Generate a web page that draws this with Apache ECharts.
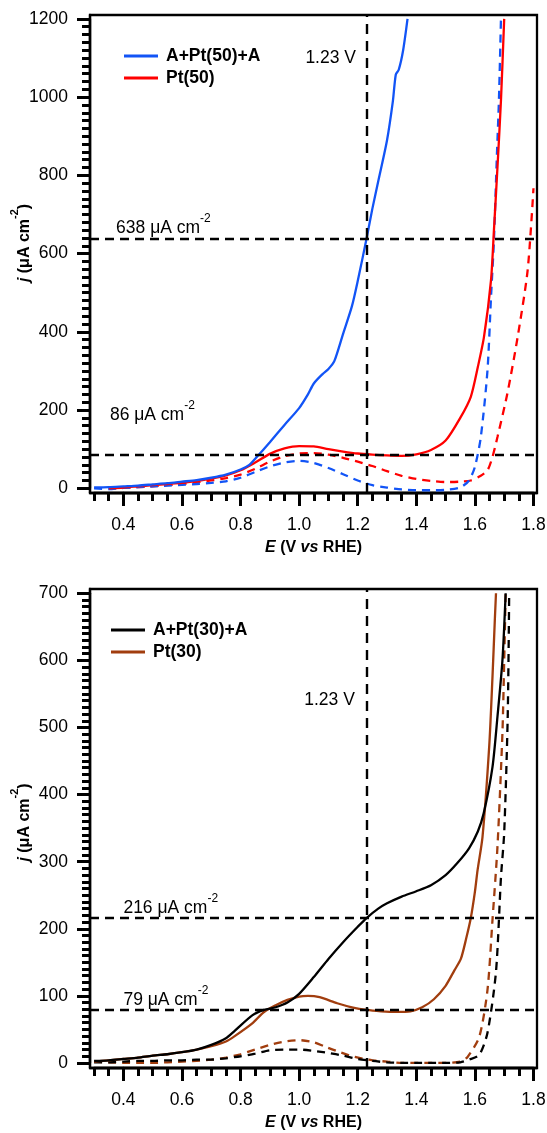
<!DOCTYPE html>
<html><head><meta charset="utf-8">
<script src="https://cdn.jsdelivr.net/npm/echarts@6/dist/echarts.min.js"></script>
<style>html,body{margin:0;padding:0;background:#fff}#c{width:547px;height:1133px;background:#fff}</style>
</head><body><div id="c"></div>
<script>
// ---------- data (E in V vs RHE, j in µA cm^-2) ----------
const xTickFirst = 0.3, xLabelFirst = 0.4, xLabelLast = 1.8, xLabelStep = 0.2, xMinorStep = 0.05;
const topYTicks = { first: 0, last: 1200, step: 200, minorSplit: 10 };
const botYTicks = { first: 0, last: 700, step: 100, minorSplit: 10 };

const refE = 1.23;
const topRefJ = [638, 86];
const botRefJ = [216, 79];

const topNames = ['A+Pt(50)+A', 'Pt(50)'];
const botNames = ['A+Pt(30)+A', 'Pt(30)'];

const topBlueSolid = [[0.30,2],[0.35,3],[0.40,5],[0.45,7],[0.50,10],[0.55,13],[0.60,17],[0.65,21],[0.70,27],[0.75,35],[0.80,48],[0.83,60],[0.86,84],[0.90,118],[0.95,162],[1.00,205],[1.03,240],[1.05,268],[1.08,292],[1.10,305],[1.12,325],[1.15,395],[1.18,465],[1.20,530],[1.23,638],[1.25,715],[1.27,785],[1.30,890],[1.32,990],[1.33,1058],[1.34,1070],[1.355,1120],[1.37,1200]];
const topRedSolid = [[0.35,0],[0.40,2],[0.45,5],[0.50,8],[0.55,11],[0.60,14],[0.65,19],[0.70,25],[0.75,33],[0.80,46],[0.85,66],[0.90,88],[0.95,102],[1.00,108],[1.05,107],[1.10,100],[1.15,94],[1.20,89],[1.25,86],[1.30,84],[1.35,83],[1.40,87],[1.45,98],[1.50,122],[1.55,180],[1.586,234],[1.61,310],[1.631,387],[1.655,532],[1.665,660],[1.677,820],[1.689,992],[1.70,1200]];
const topBlueDashed = [[0.30,0],[0.35,-2],[0.40,1],[0.45,3],[0.50,5],[0.55,7],[0.60,9],[0.65,11],[0.70,14],[0.75,18],[0.80,27],[0.85,42],[0.90,56],[0.95,66],[1.00,70],[1.05,65],[1.10,52],[1.15,36],[1.20,20],[1.25,8],[1.30,2],[1.35,-3],[1.40,-5],[1.45,-5],[1.50,-4],[1.55,2],[1.58,20],[1.60,55],[1.62,130],[1.643,302],[1.655,489],[1.665,634],[1.675,850],[1.682,992],[1.689,1200]];
const topRedDashed = [[0.35,0],[0.40,1],[0.45,3],[0.50,5],[0.55,8],[0.60,11],[0.65,15],[0.70,20],[0.75,26],[0.80,35],[0.85,50],[0.90,68],[0.95,82],[1.00,89],[1.05,90],[1.10,86],[1.15,78],[1.20,68],[1.25,57],[1.30,44],[1.35,32],[1.40,24],[1.45,19],[1.50,16],[1.55,17],[1.586,20],[1.62,32],[1.643,46],[1.66,80],[1.677,131],[1.711,243],[1.746,387],[1.78,557],[1.80,767]];

const botBlackSolid = [[0.30,3],[0.35,4],[0.40,6],[0.45,8],[0.50,11],[0.55,13],[0.60,16],[0.65,20],[0.70,27],[0.75,37],[0.78,48],[0.84,71],[0.88,79],[0.92,83],[0.96,90],[1.00,103],[1.05,128],[1.10,155],[1.15,180],[1.20,203],[1.23,216],[1.27,230],[1.30,238],[1.35,248],[1.40,256],[1.45,265],[1.50,280],[1.54,298],[1.58,320],[1.61,345],[1.63,372],[1.66,441],[1.677,516],[1.694,600],[1.705,700]];
const botBrownSolid = [[0.30,2],[0.35,4],[0.40,6],[0.45,8],[0.50,11],[0.55,13],[0.60,16],[0.65,20],[0.70,25],[0.75,32],[0.78,40],[0.84,59],[0.88,76],[0.92,86],[0.96,94],[1.00,99],[1.03,100],[1.07,98],[1.13,89],[1.18,83],[1.23,79],[1.28,77],[1.33,76],[1.38,77],[1.42,83],[1.46,95],[1.50,115],[1.53,138],[1.552,155],[1.57,185],[1.586,216],[1.60,255],[1.609,287],[1.626,337],[1.649,473],[1.66,575],[1.668,660],[1.672,700]];
const botBlackDashed = [[0.30,1],[0.35,1],[0.40,2],[0.45,3],[0.50,3],[0.55,4],[0.60,4],[0.65,5],[0.70,5],[0.75,7],[0.80,10],[0.85,14],[0.90,19],[0.95,20],[1.00,20],[1.05,18],[1.10,15],[1.15,11],[1.20,6],[1.25,3],[1.30,1],[1.35,0],[1.40,0],[1.45,0],[1.50,0],[1.55,1],[1.58,5],[1.615,12],[1.643,45],[1.672,136],[1.689,277],[1.70,343],[1.712,516],[1.717,700]];
const botBrownDashed = [[0.30,2],[0.35,1],[0.40,0],[0.45,0],[0.50,0],[0.55,1],[0.60,2],[0.65,3],[0.70,5],[0.75,8],[0.80,13],[0.85,20],[0.90,27],[0.95,32],[1.00,34],[1.05,31],[1.09,24],[1.14,16],[1.19,9],[1.25,4],[1.30,2],[1.35,0],[1.40,0],[1.45,0],[1.50,0],[1.55,2],[1.575,9],[1.615,39],[1.643,109],[1.66,213],[1.677,322],[1.694,492],[1.70,600],[1.705,700]];

// ---------- styling / layout ----------
const FONT = 'Liberation Sans, Arial, sans-serif';
const BLUE = '#1254f6', RED = '#ff0000', BLACK = '#000000', BROWN = '#a13d0e';
const LW = 2.3;
const TICK_W = 3;
const FS = 17.5;
const X_MIN = 0.286, X_MAX = 1.812;
const G_LEFT = 90, G_WIDTH = 447;
const PX_PER_E = G_WIDTH / (X_MAX - X_MIN);
const TOP_BOX = { top: 15, height: 478, yMin: -12, yMax: 1210 };
const BOT_BOX = { top: 589, height: 479, yMin: -7.5, yMax: 706.4 };

const base = { containLabel: false, outerBoundsMode: 'none' };
const tickStyle = { color: '#000', width: TICK_W };

function chartParts(box, yt, gridOffset) {
  const grids = [
    Object.assign({}, base, { left: G_LEFT, width: G_WIDTH, top: box.top, height: box.height, show: true, borderColor: '#000', borderWidth: LW }),
    Object.assign({}, base, { left: G_LEFT + (xLabelFirst - X_MIN) * PX_PER_E, width: (xLabelLast - xLabelFirst) * PX_PER_E, top: box.top, height: box.height }),
    Object.assign({}, base, { left: G_LEFT + (xTickFirst - X_MIN) * PX_PER_E, width: (xLabelFirst - xTickFirst) * PX_PER_E, top: box.top, height: box.height })
  ];
  const pxPerJ = box.height / (box.yMax - box.yMin);
  grids.push(Object.assign({}, base, { left: G_LEFT, width: G_WIDTH, top: box.top + (box.yMax - yt.last) * pxPerJ, height: (yt.last - yt.first) * pxPerJ }));

  const dummy = (g) => ({ gridIndex: g, type: 'value', min: 0, max: 1, show: false });
  const xAxes = [
    { gridIndex: gridOffset, type: 'value', position: 'bottom', min: X_MIN, max: X_MAX,
      axisLine: { show: true, onZero: false, lineStyle: { color: '#000', width: LW } }, axisTick: { show: false }, axisLabel: { show: false }, splitLine: { show: false },
      name: '{bi|E}{b| (V }{bi|vs}{b| RHE)}', nameLocation: 'middle', nameGap: 45,
      nameTextStyle: { fontFamily: FONT, rich: {
        b: { fontSize: 16, fontWeight: 'bold', color: '#000', fontFamily: FONT, lineHeight: 20 },
        bi: { fontSize: 16, fontWeight: 'bold', fontStyle: 'italic', color: '#000', fontFamily: FONT, lineHeight: 20 } } } },
    { gridIndex: gridOffset + 1, type: 'value', position: 'bottom', min: xLabelFirst, max: xLabelLast, interval: xLabelStep,
      axisLine: { show: true, onZero: false, lineStyle: { color: '#000', width: LW } },
      axisTick: { show: true, length: 13, lineStyle: tickStyle },
      minorTick: { show: true, splitNumber: Math.round(xLabelStep / xMinorStep), length: 8, lineStyle: tickStyle },
      axisLabel: { show: true, formatter: v => v.toFixed(1), margin: 23, fontSize: FS, lineHeight: 18, color: '#000', fontFamily: FONT },
      splitLine: { show: false }, minorSplitLine: { show: false } },
    { gridIndex: gridOffset + 2, type: 'value', position: 'bottom', min: xTickFirst, max: xLabelFirst, interval: xMinorStep,
      axisLine: { show: true, onZero: false, lineStyle: { color: '#000', width: LW } },
      axisTick: { show: true, length: 8, lineStyle: tickStyle },
      axisLabel: { show: false }, splitLine: { show: false } },
    dummy(gridOffset + 3)
  ];
  const yAxes = [
    { gridIndex: gridOffset, type: 'value', position: 'left', min: box.yMin, max: box.yMax,
      axisLine: { show: true, onZero: false, lineStyle: { color: '#000', width: LW } }, axisTick: { show: false }, axisLabel: { show: false }, splitLine: { show: false },
      name: '{bi|j}{b| (μA cm}{s|-2}{b|)}', nameLocation: 'middle', nameGap: 50,
      nameTextStyle: { fontFamily: FONT, padding: [0, 0, 0, gridOffset === 0 ? 22 : 12], rich: {
        b: { fontSize: 16, fontWeight: 'bold', color: '#000', fontFamily: FONT, lineHeight: 31 },
        bi: { fontSize: 16, fontWeight: 'bold', fontStyle: 'italic', color: '#000', fontFamily: FONT, lineHeight: 31 },
        s: { fontSize: 11, fontWeight: 'bold', color: '#000', fontFamily: FONT, lineHeight: 11, verticalAlign: 'top' } } } },
    dummy(gridOffset + 1),
    dummy(gridOffset + 2),
    { gridIndex: gridOffset + 3, type: 'value', position: 'left', min: yt.first, max: yt.last, interval: yt.step,
      axisLine: { show: true, onZero: false, lineStyle: { color: '#000', width: LW } },
      axisTick: { show: true, length: 13, lineStyle: tickStyle },
      minorTick: { show: true, splitNumber: yt.minorSplit, length: 8, lineStyle: tickStyle },
      axisLabel: { show: true, formatter: v => String(v), margin: 22, fontSize: FS, color: '#000', fontFamily: FONT },
      splitLine: { show: false }, minorSplitLine: { show: false } }
  ];
  return { grids, xAxes, yAxes };
}

function lineSeries(name, data, color, dashed, ai, extra) {
  return Object.assign({
    name: name, type: 'line', data: data, xAxisIndex: ai, yAxisIndex: ai,
    showSymbol: false, symbol: 'none', smooth: 0.25, clip: true,
    lineStyle: { color: color, width: LW, type: dashed ? [8, 6] : 'solid' },
    itemStyle: { color: color }, silent: true, animation: false
  }, extra || {});
}
function refMarkLine(hValues, vValue) {
  const d = hValues.map(v => ({ yAxis: v, lineStyle: { type: [9, 6] } }));
  d.push({ xAxis: vValue, lineStyle: { type: [10, 7] } });
  return { silent: true, symbol: ['none', 'none'], animation: false, label: { show: false },
    lineStyle: { color: '#000', width: 2.4 }, data: d };
}
const annRich = {
  n: { fontSize: FS, lineHeight: 31, color: '#000', fontFamily: FONT },
  s: { fontSize: 12, lineHeight: 12, color: '#000', fontFamily: FONT, verticalAlign: 'top' }
};
function annSeries(ai, items) {
  return {
    type: 'scatter', xAxisIndex: ai, yAxisIndex: ai, symbolSize: 0, silent: true, animation: false,
    itemStyle: { opacity: 1 },
    data: items.map(it => ({ value: [it.e, it.j], label: { show: true, position: [0, 0], align: it.align || 'left', verticalAlign: 'middle',
      formatter: it.text, rich: annRich, fontFamily: FONT, fontSize: FS, color: '#000' } }))
  };
}
const jText = v => '{n|' + v + ' μA cm}{s|-2}';
const eText = v => '{n|' + v.toFixed(2) + ' V}';

const topParts = chartParts(TOP_BOX, topYTicks, 0);
const botParts = chartParts(BOT_BOX, botYTicks, 4);
const legendText = { fontSize: FS, fontWeight: 'bold', color: '#000', fontFamily: FONT, lineHeight: 20, padding: [0, 0, 0, 3] };

const option = {
  animation: false,
  grid: topParts.grids.concat(botParts.grids),
  legend: [
    { data: topNames, orient: 'vertical', left: 119, top: 41, itemWidth: 34, itemHeight: 3, itemGap: 2, icon: 'rect', textStyle: legendText, selectedMode: false },
    { data: botNames, orient: 'vertical', left: 106, top: 615, itemWidth: 34, itemHeight: 3, itemGap: 2, icon: 'rect', textStyle: legendText, selectedMode: false }
  ],
  xAxis: topParts.xAxes.concat(botParts.xAxes),
  yAxis: topParts.yAxes.concat(botParts.yAxes),
  series: [
    lineSeries(topNames[1] + ' dashed', topRedDashed, RED, true, 0),
    lineSeries(topNames[0] + ' dashed', topBlueDashed, BLUE, true, 0),
    lineSeries(topNames[1], topRedSolid, RED, false, 0),
    lineSeries(topNames[0], topBlueSolid, BLUE, false, 0, { markLine: refMarkLine(topRefJ, refE) }),
    annSeries(0, [
      { e: 0.375, j: 665, text: jText(topRefJ[0]) },
      { e: 0.354, j: 186, text: jText(topRefJ[1]) },
      { e: 1.194, j: 1100, text: eText(refE), align: 'right' }
    ]),
    lineSeries(botNames[1] + ' dashed', botBrownDashed, BROWN, true, 4),
    lineSeries(botNames[0] + ' dashed', botBlackDashed, BLACK, true, 4),
    lineSeries(botNames[1], botBrownSolid, BROWN, false, 4),
    lineSeries(botNames[0], botBlackSolid, BLACK, false, 4, { markLine: refMarkLine(botRefJ, refE) }),
    annSeries(4, [
      { e: 0.40, j: 231, text: jText(botRefJ[0]) },
      { e: 0.40, j: 94, text: jText(botRefJ[1]) },
      { e: 1.19, j: 541, text: eText(refE), align: 'right' }
    ])
  ]
};
const chart = echarts.init(document.getElementById('c'), null, { renderer: 'canvas' });
chart.setOption(option);
</script></body></html>
